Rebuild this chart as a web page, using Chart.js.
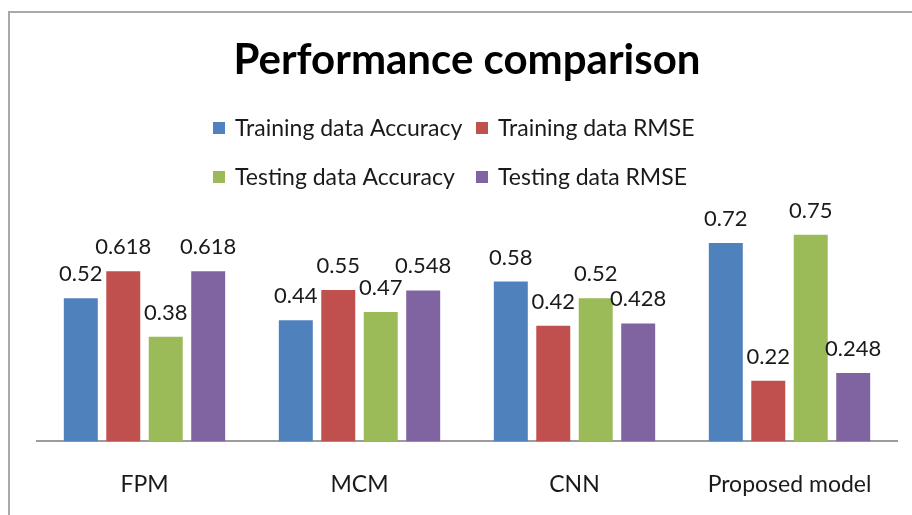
<!DOCTYPE html>
<html>
<head>
<meta charset="utf-8">
<script src="https://cdn.jsdelivr.net/npm/chart.js@4/dist/chart.umd.min.js"></script>
<style>
  html, body { margin: 0; padding: 0; background: #fff; overflow: hidden; }
  #wrap { position: relative; width: 912px; height: 515px; }
  #frame {
    position: absolute; left: 8px; top: 11px; width: 1000px; height: 600px;
    border-left: 2px solid #a9a9a9; border-top: 2px solid #a9a9a9;
  }
  canvas { position: absolute; left: 0; top: 0; }
</style>
</head>
<body>
<div id="wrap">
  <div id="frame"></div>
  <canvas id="chart" width="912" height="515"></canvas>
</div>
<script>
const categories = ['FPM', 'MCM', 'CNN', 'Proposed model'];
const seriesNames = ['Training data Accuracy', 'Training data RMSE', 'Testing data Accuracy', 'Testing data RMSE'];
const trainingAccuracy = [0.52, 0.44, 0.58, 0.72];
const trainingRmse = [0.618, 0.55, 0.42, 0.22];
const testingAccuracy = [0.38, 0.47, 0.52, 0.75];
const testingRmse = [0.618, 0.548, 0.428, 0.248];
const seriesColors = ['#4F81BD', '#C0504D', '#9BBB59', '#8064A2'];

const textColor = '#1a1a1a';
const fontFamily = 'Lato, Carlito, "Open Sans", sans-serif';

// value labels above each bar (Excel "outside end")
const barLabels = {
  id: 'barLabels',
  afterDatasetsDraw(chart) {
    const ctx = chart.ctx;
    ctx.save();
    ctx.font = '22px ' + fontFamily;
    ctx.fillStyle = textColor;
    ctx.textAlign = 'center';
    ctx.textBaseline = 'alphabetic';
    chart.data.datasets.forEach((ds, i) => {
      chart.getDatasetMeta(i).data.forEach((bar, j) => {
        ctx.fillText(String(ds.data[j]), bar.x, bar.y - 17);
      });
    });
    ctx.restore();
  }
};

// two-row legend like the original
const gridLegend = {
  id: 'gridLegend',
  afterDraw(chart) {
    const ctx = chart.ctx;
    const slots = [[213, 128], [476, 128], [213, 177], [476, 177]];
    ctx.save();
    ctx.font = '23px ' + fontFamily;
    ctx.textBaseline = 'middle';
    ctx.textAlign = 'left';
    chart.data.datasets.forEach((ds, i) => {
      const [x, y] = slots[i];
      ctx.fillStyle = ds.backgroundColor;
      ctx.fillRect(x, y - 6, 12, 12);
      ctx.fillStyle = textColor;
      ctx.fillText(ds.label, x + 22, y + 1);
    });
    ctx.restore();
  }
};

function makeChart() {
  const values = [trainingAccuracy, trainingRmse, testingAccuracy, testingRmse];
  new Chart(document.getElementById('chart'), {
    type: 'bar',
    data: {
      labels: categories,
      datasets: seriesNames.map((name, i) => ({
        label: name,
        data: values[i],
        backgroundColor: seriesColors[i],
        borderWidth: 0,
        categoryPercentage: 0.79,
        barPercentage: 0.8
      }))
    },
    options: {
      responsive: false,
      animation: false,
      layout: { padding: { left: 37, right: 15, top: 0, bottom: -12 } },
      plugins: {
        legend: { display: false },
        tooltip: { enabled: false },
        title: {
          display: true,
          text: 'Performance comparison',
          color: '#000',
          font: { family: fontFamily, size: 42, weight: 'bold' },
          padding: { top: 35, bottom: 135.6 }
        }
      },
      scales: {
        x: {
          grid: { display: false, drawTicks: false },
          border: { display: true, color: '#9c9c9c', width: 2 },
          ticks: { color: textColor, font: { family: fontFamily, size: 23 }, padding: 29 }
        },
        y: {
          display: false,
          min: 0,
          max: 0.8
        }
      }
    },
    plugins: [barLabels, gridLegend]
  });
}

Promise.all([
  document.fonts.load('bold 42px Lato'),
  document.fonts.load('23px Lato')
]).then(makeChart, makeChart);
</script>
</body>
</html>
